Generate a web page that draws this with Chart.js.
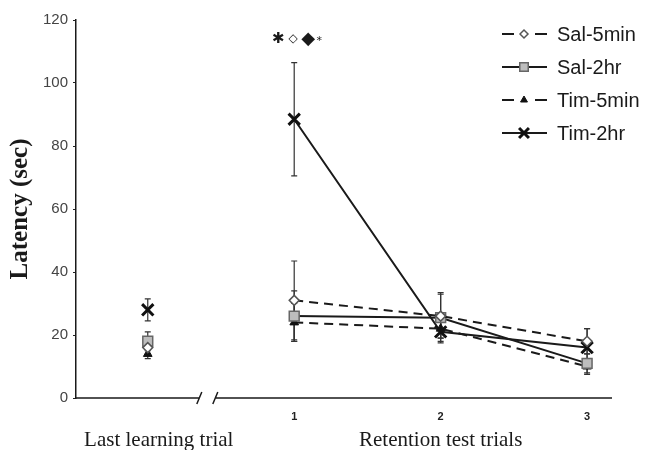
<!DOCTYPE html>
<html>
<head>
<meta charset="utf-8">
<script src="https://cdn.jsdelivr.net/npm/chart.js@4/dist/chart.umd.min.js"></script>
<style>
  html, body { margin: 0; padding: 0; background: #fff; }
</style>
</head>
<body>
<canvas id="latencyChart" width="647" height="450"></canvas>
<script>
// --- Data ---
const trials = ['Last learning trial', '1', '2', '3'];
const trialPos = [0, 1, 2, 3];
const yTicks = [0, 20, 40, 60, 80, 100, 120];

const salShort = [16, 31, 26, 18];
const salShortErr = [2, 12.5, 7, 4];
const salLong = [18, 26, 25.5, 11];
const salLongErr = [3, 8, 8, 3];
const timShort = [14, 24, 22, 10];
const timShortErr = [1.5, 6, 3, 2.5];
const timLong = [28, 88.5, 21, 16];
const timLongErr = [3.5, 18, 3, 6];

const sigMarks = ['✱', '◇', '◆', '*'];
const sigLevel = 114;

const ink = '#1a1a1a';

const toPoints = (vals) => vals.map((v, i) => ({ x: trialPos[i], y: v }));

// hide the segment that would cross the axis break
const skipBreak = { borderColor: ctx => ctx.p0DataIndex === 0 ? 'rgba(0,0,0,0)' : undefined };

const datasets = [
    {
        label: 'Sal-5min', data: toPoints(salShort), err: salShortErr,
        borderColor: ink, borderWidth: 2, borderDash: [9, 6],
        pointStyle: 'rectRot', pointRadius: 5, pointBorderWidth: 1.5,
        pointBackgroundColor: '#fff', pointBorderColor: '#555', segment: skipBreak
    },
    {
        label: 'Sal-2hr', data: toPoints(salLong), err: salLongErr,
        borderColor: ink, borderWidth: 2,
        pointStyle: 'rect', pointRadius: 7, pointBorderWidth: 1.5,
        pointBackgroundColor: '#bdbdbd', pointBorderColor: '#666', segment: skipBreak
    },
    {
        label: 'Tim-5min', data: toPoints(timShort), err: timShortErr,
        borderColor: ink, borderWidth: 2, borderDash: [9, 6],
        pointStyle: 'triangle', pointRadius: 5, pointBorderWidth: 1,
        pointBackgroundColor: '#111', pointBorderColor: '#111', segment: skipBreak
    },
    {
        label: 'Tim-2hr', data: toPoints(timLong), err: timLongErr,
        borderColor: ink, borderWidth: 2,
        pointStyle: 'crossRot', pointRadius: 8, pointBorderWidth: 3,
        pointBackgroundColor: '#111', pointBorderColor: '#111', segment: skipBreak
    }
];

// --- Error bars, drawn under the markers ---
const errorBars = {
    id: 'errorBars',
    beforeDatasetsDraw(chart) {
        const { ctx, scales: { x, y } } = chart;
        ctx.save();
        ctx.strokeStyle = '#333';
        ctx.lineWidth = 1.2;
        chart.data.datasets.forEach(ds => {
            ds.data.forEach((p, i) => {
                const px = x.getPixelForValue(p.x);
                const top = y.getPixelForValue(p.y + ds.err[i]);
                const bot = y.getPixelForValue(p.y - ds.err[i]);
                ctx.beginPath();
                ctx.moveTo(px, top); ctx.lineTo(px, bot);
                ctx.moveTo(px - 3, top); ctx.lineTo(px + 3, top);
                ctx.moveTo(px - 3, bot); ctx.lineTo(px + 3, bot);
                ctx.stroke();
            });
        });
        ctx.restore();
    }
};

// --- Broken x axis, titles, significance marks and legend ---
const decorations = {
    id: 'decorations',
    afterDraw(chart) {
        const { ctx, chartArea: area, scales: { x, y } } = chart;
        ctx.save();

        // x axis line with the // break
        const gapMid = x.getPixelForValue(0.41);
        const base = area.bottom;
        ctx.strokeStyle = ink;
        ctx.lineWidth = 1.5;
        ctx.beginPath();
        ctx.moveTo(area.left, base); ctx.lineTo(gapMid - 8, base);
        ctx.moveTo(gapMid + 8, base); ctx.lineTo(area.right, base);
        ctx.moveTo(gapMid - 11, base + 6); ctx.lineTo(gapMid - 6, base - 6);
        ctx.moveTo(gapMid + 5, base + 6); ctx.lineTo(gapMid + 10, base - 6);
        ctx.stroke();

        // axis titles
        ctx.fillStyle = ink;
        ctx.textAlign = 'center';
        ctx.textBaseline = 'alphabetic';
        ctx.font = '21px "Liberation Serif", serif';
        ctx.fillText(trials[0], x.getPixelForValue(0) + 11, 446);
        ctx.fillText('Retention test trials', x.getPixelForValue(2), 446);

        ctx.save();
        ctx.translate(21, 209);
        ctx.rotate(-Math.PI / 2);
        ctx.textBaseline = 'middle';
        ctx.font = 'bold 25px "Liberation Serif", serif';
        ctx.fillText('Latency (sec)', 0, 0);
        ctx.restore();

        // significance marks above trial 1
        const sx = x.getPixelForValue(1);
        const sy = y.getPixelForValue(sigLevel);
        const offs = [-16, -1, 14, 25];
        const sizes = [15, 12, 18, 11];
        ctx.textBaseline = 'middle';
        sigMarks.forEach((m, i) => {
            ctx.font = sizes[i] + 'px "DejaVu Sans", sans-serif';
            ctx.fillText(m, sx + offs[i], sy + (m === '*' ? 2 : 0));
        });

        // legend
        ctx.font = '20px "Liberation Sans", Arial, sans-serif';
        ctx.textAlign = 'left';
        chart.data.datasets.forEach((ds, i) => {
            const ly = 34 + i * 33;
            ctx.strokeStyle = ink;
            ctx.lineWidth = 2;
            ctx.beginPath();
            if (ds.borderDash) {
                ctx.moveTo(502, ly); ctx.lineTo(514, ly);
                ctx.moveTo(535, ly); ctx.lineTo(547, ly);
            } else {
                ctx.moveTo(502, ly); ctx.lineTo(547, ly);
            }
            ctx.stroke();
            ctx.fillStyle = ds.pointBackgroundColor;
            ctx.strokeStyle = ds.pointBorderColor;
            ctx.lineWidth = ds.pointBorderWidth;
            Chart.helpers.drawPoint(ctx, {
                pointStyle: ds.pointStyle, rotation: 0,
                radius: ds.pointRadius - 1, borderWidth: ds.pointBorderWidth
            }, 524, ly);
            ctx.fillStyle = ink;
            ctx.fillText(ds.label, 557, ly + 1);
        });

        ctx.restore();
    }
};

new Chart(document.getElementById('latencyChart'), {
    type: 'line',
    data: { datasets },
    options: {
        responsive: false,
        animation: false,
        devicePixelRatio: 1,
        layout: { padding: { top: 20, right: 35, left: 0, bottom: 0 } },
        plugins: { legend: { display: false }, tooltip: { enabled: false } },
        scales: {
            x: {
                type: 'linear',
                min: -0.49,
                max: 3.17,
                grid: { display: false, drawTicks: false },
                border: { display: false },
                afterBuildTicks: s => { s.ticks = trialPos.slice(1).map(v => ({ value: v })); },
                afterFit: s => { s.height = 52; },
                ticks: {
                    autoSkip: false,
                    maxRotation: 0,
                    padding: 12,
                    color: '#222',
                    font: { family: '"Liberation Sans", Arial, sans-serif', size: 11, weight: 'bold' },
                    callback: v => trials[trialPos.indexOf(v)]
                }
            },
            y: {
                min: 0,
                max: 120,
                afterBuildTicks: s => { s.ticks = yTicks.map(v => ({ value: v })); },
                afterFit: s => { s.width = 76; },
                grid: { drawOnChartArea: false, tickLength: 3, color: '#222' },
                border: { color: ink, width: 1.5 },
                ticks: {
                    padding: 5,
                    color: '#444',
                    font: { family: '"Liberation Sans", Arial, sans-serif', size: 15 }
                }
            }
        }
    },
    plugins: [errorBars, decorations]
});
</script>
</body>
</html>
